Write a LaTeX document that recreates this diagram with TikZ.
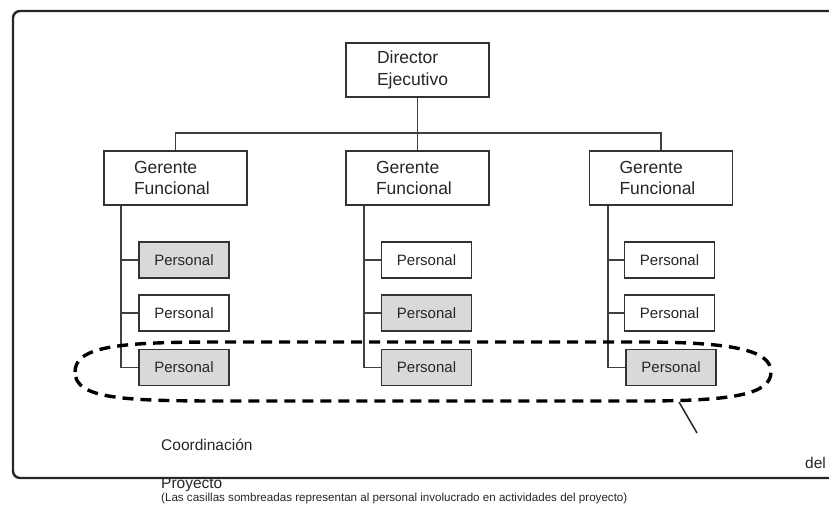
\documentclass[tikz,border=0pt]{standalone}
\usepackage{fontspec}
\setmainfont{Liberation Sans}
\begin{document}
\begin{tikzpicture}[x=1pt,y=-1pt,
  box/.style={draw=black!80,line width=1.1pt,rectangle,inner ysep=0pt,
    minimum height=54pt,text width=83pt,align=left,inner xsep=30pt,
    font=\fontsize{17.5}{21.5}\selectfont,text=black!85},
  staff/.style={draw=black!80,line width=1.1pt,rectangle,inner sep=0pt,
    minimum width=90pt,minimum height=36pt,
    font=\fontsize{15}{18}\selectfont,text=black!85},
  shaded/.style={staff,fill=black!15},
  conn/.style={draw=black!75,line width=1.2pt},
  frame/.style={draw=black!85,line width=2.4pt,rounded corners=7pt},
  group/.style={draw=black,line width=3.4pt,dash pattern=on 11pt off 7pt},
  note/.style={inner sep=0pt,anchor=west,text=black!85}]
\useasboundingbox (0,0) rectangle (829,506);
\clip (0,0) rectangle (829,506);

% top of the hierarchy
\node[box,minimum width=143pt,text width=81pt,inner xsep=31pt] (dir) at (417.5,70) {Director\\Ejecutivo};

% functional managers
\node[box] (g1) at (175.5,178) {Gerente\\Funcional};
\node[box] (g2) at (417.5,178) {Gerente\\Funcional};
\node[box] (g3) at (661,178) {Gerente\\Funcional};

% staff under each manager
\node[shaded] (p11) at (184,260) {Personal};
\node[staff]  (p12) at (184,313) {Personal};
\node[shaded] (p13) at (184,367.5) {Personal};
\node[staff]  (p21) at (426.5,260) {Personal};
\node[shaded] (p22) at (426.5,313) {Personal};
\node[shaded] (p23) at (426.5,367.5) {Personal};
\node[staff]  (p31) at (669.5,260) {Personal};
\node[staff]  (p32) at (669.5,313) {Personal};
\node[shaded] (p33) at (671,367.5) {Personal};

% reporting lines
\coordinate (busy) at (0,133);
\draw[conn] (dir.south) -- (g2.north);
\draw[conn] (g1.north) |- (g3.north |- busy) -- (g3.north);

\coordinate (t1) at (121,0);
\coordinate (t2) at (364,0);
\coordinate (t3) at (608,0);
\draw[conn] (g1.south -| t1) |- (p13.west);
\draw[conn] (p11.west) -- (p11.west -| t1);
\draw[conn] (p12.west) -- (p12.west -| t1);
\draw[conn] (g2.south -| t2) |- (p23.west);
\draw[conn] (p21.west) -- (p21.west -| t2);
\draw[conn] (p22.west) -- (p22.west -| t2);
\draw[conn] (g3.south -| t3) |- (p33.west);
\draw[conn] (p31.west) -- (p31.west -| t3);
\draw[conn] (p32.west) -- (p32.west -| t3);

% project coordination group
\draw[group] (75,372) .. controls (75,346) and (120,342) .. (220,342) -- (640,342)
  .. controls (740,342) and (771,352) .. (771,372)
  .. controls (771,395) and (730,401) .. (640,401) -- (220,401)
  .. controls (120,401) and (75,398) .. cycle;
\coordinate (ptrA) at (679,402);
\coordinate (ptrB) at (697,433);
\draw[line width=1.5pt,black!85] (ptrA) -- (ptrB);

% labels
\node[note,font=\fontsize{15.5}{18}\selectfont] (lc) at (161,445) {Coordinación};
\node[note,font=\fontsize{15.5}{18}\selectfont] (ld) at (805,463) {del};
\node[note,font=\fontsize{15.5}{18}\selectfont] (lp) at (161,484.5) {Proyecto};
\node[note,font=\fontsize{11.6}{13}\selectfont] (lcap) at (161,498) {(Las casillas sombreadas representan al personal involucrado en actividades del proyecto)};

% outer frame
\draw[frame] (840,11) -- (13,11) -- (13,478) -- (840,478);
\end{tikzpicture}
\end{document}
